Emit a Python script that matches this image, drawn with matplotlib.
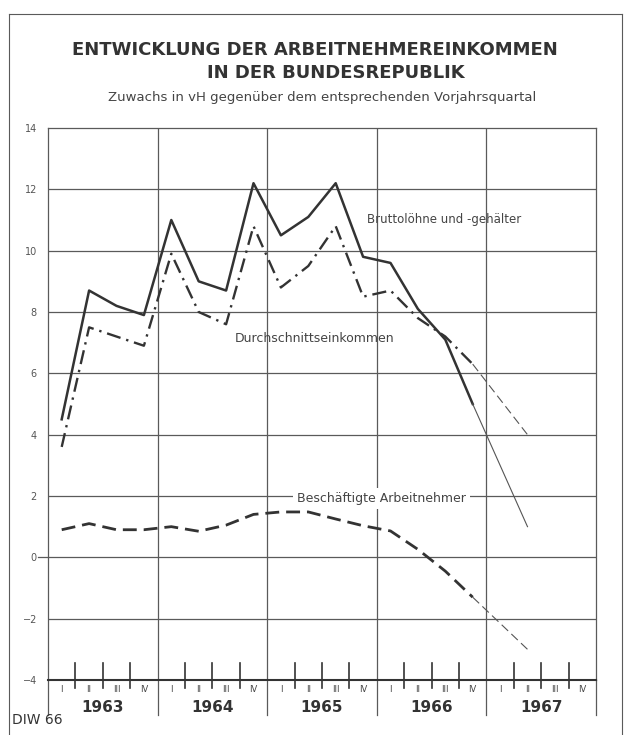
"""Arbeitnehmereinkommen in der Bundesrepublik, DIW 66."""
import numpy as np
import matplotlib
matplotlib.use("Agg")
import matplotlib.pyplot as plt

# quarterly growth rates, 1963 Q1 .. 1966 Q4 (vH gegenüber Vorjahrsquartal)
brutto = [4.5, 8.7, 8.2, 7.9, 11.0, 9.0, 8.7, 12.2, 10.5, 11.1, 12.2, 9.8, 9.6, 8.1, 7.1, 5.0]
durchschnitt = [3.6, 7.5, 7.2, 6.9, 9.9, 8.0, 7.6, 10.8, 8.8, 9.5, 10.8, 8.5, 8.7, 7.8, 7.2, 6.3]
beschaeftigte = [0.9, 1.1, 0.9, 0.9, 1.0, 0.85, 1.05, 1.4, 1.48, 1.48, 1.25, 1.03, 0.86, 0.26, -0.45, -1.3]

# projection 1966 Q4 -> 1967 Q2 (thin lines)
proj_quarters = [15, 17]
brutto_proj = [5.0, 1.0]
durchschnitt_proj = [6.3, 4.0]
beschaeftigte_proj = [-1.3, -3.0]

years = ["1963", "1964", "1965", "1966", "1967"]
quarter_names = ["I", "II", "III", "IV"]
yticks = [14, 12, 10, 8, 6, 4, 2, 0, -2, -4]

W, H = 630, 735
INK = "#333333"
GRID = "#5a5a5a"


def fx(px):
    return px / W


def fy(py):
    return 1 - py / H


fig = plt.figure(figsize=(W / 100, H / 100), dpi=100)
fig.patch.set_facecolor("white")

# outer frame
fig.add_artist(plt.Line2D([fx(9), fx(9)], [fy(14), 0], color=GRID, lw=0.8))
fig.add_artist(plt.Line2D([fx(9), fx(622)], [fy(14), fy(14)], color=GRID, lw=0.8))
fig.add_artist(plt.Line2D([fx(622), fx(622)], [fy(14), 0], color=GRID, lw=0.8))

ax = fig.add_axes([fx(48), fy(680), fx(596) - fx(48), fy(128) - fy(680)])
ax.set_xlim(0, 20)
ax.set_ylim(-4, 14)

for s in ["left", "top", "right"]:
    ax.spines[s].set_color(GRID)
    ax.spines[s].set_linewidth(0.9)
ax.spines["bottom"].set_color(INK)
ax.spines["bottom"].set_linewidth(1.5)

# grid
for y in yticks[1:-1]:
    ax.axhline(y, color=GRID, lw=0.9, zorder=1)
for x in [4, 8, 12, 16]:
    ax.axvline(x, color=GRID, lw=0.9, zorder=1)

ax.set_yticks(yticks)
ax.set_yticklabels([str(v).replace("-", "\u2212") for v in yticks], fontsize=7, color="#555555")
ax.tick_params(axis="y", length=0, pad=8)
ax.set_xticks([])
ax.plot([-0.38, 0], [0, 0], color=GRID, lw=0.9, clip_on=False)

# quarter ticks, roman numerals, year labels on the base line
for k in range(1, 20):
    if k % 4 == 0:
        ax.plot([k, k], [-4, -5.15], color=GRID, lw=0.9, clip_on=False)
    else:
        ax.plot([k, k], [-3.45, -4.25], color=INK, lw=1.2, clip_on=False)
ax.plot([0, 0], [-4, -5.15], color=GRID, lw=0.9, clip_on=False)
ax.plot([20, 20], [-4, -5.15], color=GRID, lw=0.9, clip_on=False)
for k in range(20):
    ax.text(k + 0.5, -4.3, quarter_names[k % 4], ha="center", va="center",
            fontsize=6, color="#444444")
for i, yr in enumerate(years):
    ax.text(4 * i + 2, -4.9, yr, ha="center", va="center", fontsize=11,
            fontweight="bold", color=INK)

q = np.arange(len(brutto)) + 0.5
px = np.array(proj_quarters) + 0.5

ax.plot(q, brutto, color=INK, lw=1.8, zorder=3)
ax.plot(px, brutto_proj, color="#555555", lw=0.8, zorder=3)

ax.plot(q, durchschnitt, color=INK, lw=1.7, linestyle=(0, (6, 2.5, 1, 2.5)), zorder=3)
ax.plot(px, durchschnitt_proj, color="#555555", lw=0.8, linestyle=(0, (8, 4)), zorder=3)

ax.plot(q, beschaeftigte, color=INK, lw=2.0, linestyle=(0, (5, 2.5)), zorder=3)
ax.plot(px, beschaeftigte_proj, color="#555555", lw=0.8, linestyle=(0, (8, 4)), zorder=3)

# series labels
ax.text(11.65, 11.0, "Bruttolöhne und -gehälter", fontsize=8.5, color="#444444",
        ha="left", va="center", zorder=4)
ax.text(6.8, 7.15, "Durchschnittseinkommen", fontsize=9, color="#444444",
        ha="left", va="center", zorder=4)
ax.text(9.1, 1.92, "Beschäftigte Arbeitnehmer", fontsize=9, color="#444444",
        ha="left", va="center", zorder=4,
        bbox=dict(facecolor="white", edgecolor="none", pad=3))

# titles
fig.text(fx(315), fy(50), "ENTWICKLUNG DER ARBEITNEHMEREINKOMMEN", ha="center", va="center",
         fontsize=13, fontweight="bold", color=INK)
fig.text(fx(336), fy(73), "IN DER BUNDESREPUBLIK", ha="center", va="center",
         fontsize=13, fontweight="bold", color=INK)
fig.text(fx(322), fy(97), "Zuwachs in vH gegenüber dem entsprechenden Vorjahrsquartal",
         ha="center", va="center", fontsize=9.5, color="#444444")
fig.text(fx(12), fy(720), "DIW 66", ha="left", va="center", fontsize=10, color=INK)

fig.savefig("out.png", dpi=100, facecolor="white")
